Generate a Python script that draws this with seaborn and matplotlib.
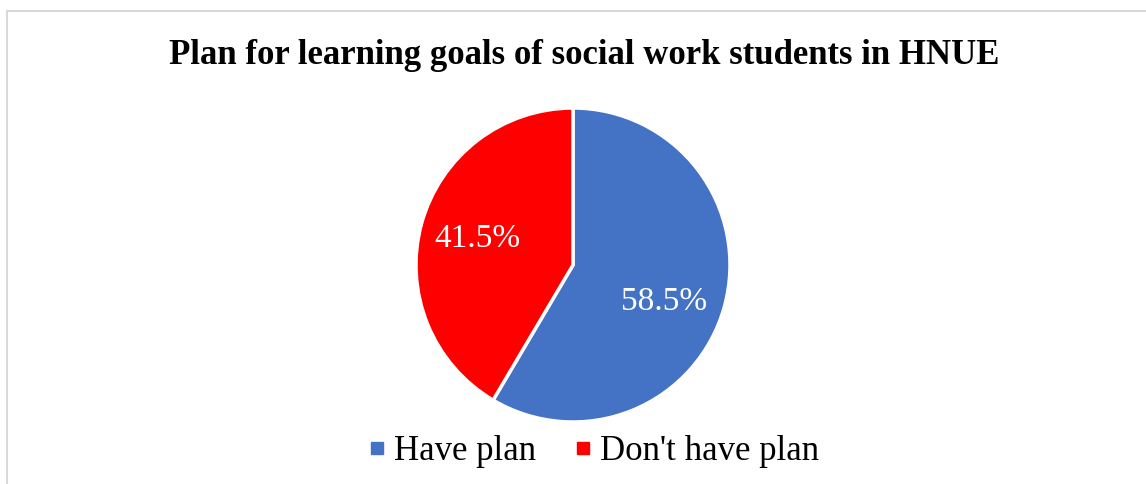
import matplotlib
matplotlib.use("Agg")
import matplotlib.pyplot as plt
from matplotlib.lines import Line2D
import seaborn as sns

categories = ["Have plan", "Don't have plan"]
values = [58.5, 41.5]
colors = ["#4472C4", "#FF0000"]
title = "Plan for learning goals of social work students in HNUE"

sns.set_theme(style="white")
plt.rcParams['font.family'] = ['Liberation Serif', 'DejaVu Serif']
plt.rcParams['text.color'] = 'black'

fig = plt.figure(figsize=(11.46, 4.84), dpi=100)
ax = fig.add_axes([416/1146, (484-422)/484, 314/1146, 314/484])

wedges, texts, autotexts = ax.pie(
    values, colors=colors, startangle=90, counterclock=False,
    autopct=lambda p: f"{p:.1f}%", pctdistance=0.63,
    wedgeprops=dict(edgecolor="white", linewidth=2.5),
    textprops=dict(color="white", fontsize=24),
)
# Excel-style label placement for the larger slice
autotexts[0].set_position((0.58, -0.235))
ax.set_xlim(-1, 1)
ax.set_ylim(-1, 1)
ax.set_aspect("equal")

fig.text(584/1146, 1 - 55/484, title, ha="center", va="center",
         fontsize=25, fontweight="bold", color="black")

handles = [Line2D([0], [0], marker="s", linestyle="none", markersize=9,
                  markerfacecolor=c, markeredgecolor=c) for c in colors]
leg = fig.legend(handles, categories, loc="center", bbox_to_anchor=(591/1146, 1 - 452/484),
                 ncol=2, frameon=False, fontsize=25, handletextpad=0.1,
                 columnspacing=0.95, handlelength=0.8)
for t in leg.get_texts():
    t.set_color("black")

# chart border (left and top only visible)
fig.add_artist(Line2D([6.5/1146, 6.5/1146], [0, 1 - 11/484], transform=fig.transFigure,
                      color="#D9D9D9", linewidth=1.5))
fig.add_artist(Line2D([6.5/1146, 1], [1 - 11/484, 1 - 11/484], transform=fig.transFigure,
                      color="#D9D9D9", linewidth=1.5))

fig.savefig("out.png", dpi=100, facecolor="white")
